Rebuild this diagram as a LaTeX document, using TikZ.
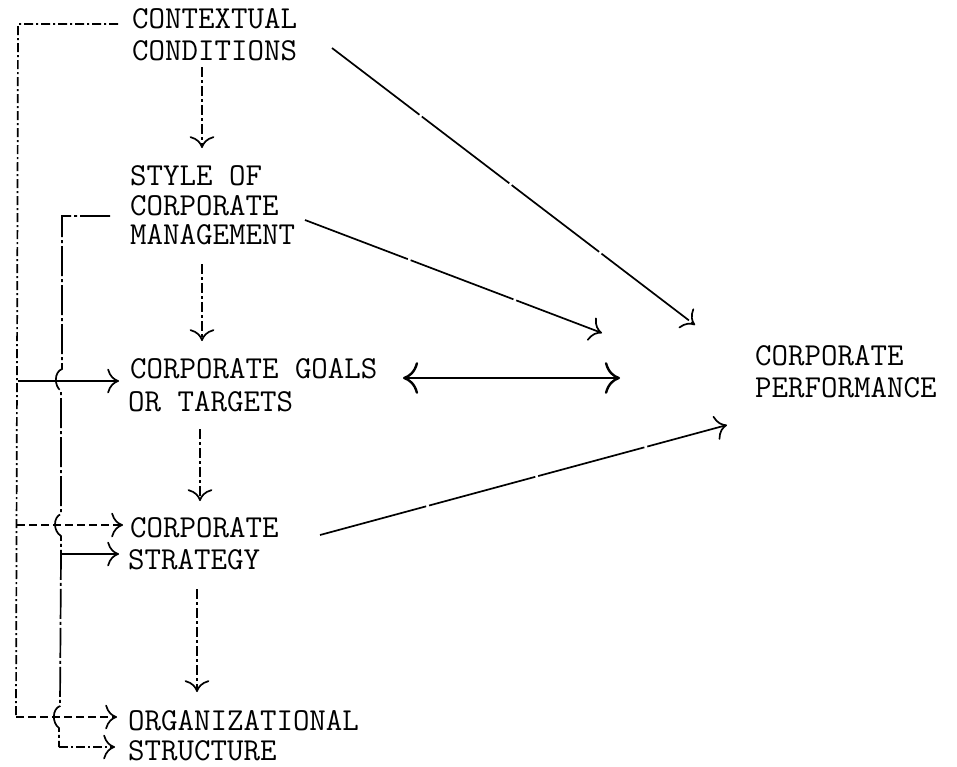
\documentclass[tikz,border=0pt]{standalone}
\usetikzlibrary{arrows.meta}
\begin{document}
\begin{tikzpicture}[x=1pt,y=-1pt,
  lbl/.style={anchor=base west,inner sep=0pt,font=\fontsize{32}{32}\selectfont\ttfamily},
  ln/.style={line width=1.7pt,black},
  tip/.style={-{Computer Modern Rightarrow[scale=2.2]}},
  twotip/.style={{Computer Modern Rightarrow[scale=2.2]}-{Computer Modern Rightarrow[scale=2.2]}},
  bus/.style={ln,dash pattern=on 9pt off 3pt on 2pt off 3pt},
  ibus/.style={ln,dash pattern=on 30pt off 3pt on 3pt off 3pt},
  vdash/.style={ln,dash pattern=on 10pt off 3pt on 3pt off 3pt},
  dashedln/.style={ln,dash pattern=on 8pt off 4pt},
  longln/.style={ln,dash pattern=on 110pt off 3pt}]
\fill[white] (0,0) rectangle (957,766);
\useasboundingbox (0,0) rectangle (957,766);
% text
\node[lbl] (cc1) at (132,28) {CONTEXTUAL};
\node[lbl] (cc2) at (132,60) {CONDITIONS};
\node[lbl] (sm1) at (130,185) {STYLE OF};
\node[lbl] (sm2) at (130,215) {CORPORATE};
\node[lbl] (sm3) at (130,244) {MANAGEMENT};
\node[lbl] (gt1) at (130,378) {CORPORATE GOALS};
\node[lbl] (gt2) at (128,411) {OR TARGETS};
\node[lbl] (cs1) at (130,537) {CORPORATE};
\node[lbl] (cs2) at (128,569) {STRATEGY};
\node[lbl] (os1) at (128,730) {ORGANIZATIONAL};
\node[lbl] (os2) at (128,760) {STRUCTURE};
\node[lbl] (cp1) at (755,365) {CORPORATE};
\node[lbl] (cp2) at (755,397) {PERFORMANCE};
% coordinates
\coordinate (ccL) at (118,24);
\coordinate (ob1) at (18,24);
\coordinate (ob2) at (18,381);
\coordinate (ob3) at (17,525);
\coordinate (ob4) at (16,717);
\coordinate (gtA) at (119,381);
\coordinate (csA) at (123,525);
\coordinate (osA) at (117,717);
\coordinate (smL) at (110,216);
\coordinate (ib1) at (62,216);
\coordinate (ibS) at (61,554);
\coordinate (stA) at (119,554);
\coordinate (ib2) at (59,747);
\coordinate (suA) at (115,747);
\coordinate (v1a) at (202,67);  \coordinate (v1b) at (202,148);
\coordinate (v2a) at (202,264); \coordinate (v2b) at (202,341);
\coordinate (v3a) at (200,429); \coordinate (v3b) at (200,501);
\coordinate (v4a) at (197,589); \coordinate (v4b) at (197,692);
\coordinate (ccR) at (332,48);  \coordinate (pfA) at (695,325);
\coordinate (smR) at (305,220); \coordinate (pfB) at (602,333);
\coordinate (csR) at (320,535); \coordinate (pfC) at (727,425);
\coordinate (gtR) at (403,378); \coordinate (pfD) at (620,378);
% outer bus
\draw[bus] (ccL) -- (ob1) -- (ob4);
\draw[ln,tip] (ob2) -- (gtA);
\draw[dashedln,tip] (ob3) -- (csA);
\draw[dashedln,tip] (ob4) -- (osA);
% inner bus with hops
\draw[ibus] (smL) -- (ib1) -- (62,369)
  .. controls (54,372) and (54,386) .. (61,391)
  -- (61,514) .. controls (53,517) and (53,531) .. (61,536)
  -- (ibS) -- (60,706) .. controls (52,709) and (52,723) .. (59,728)
  -- (ib2);
\draw[ln,tip] (ibS) -- (stA);
\draw[bus,tip] (ib2) -- (suA);
% vertical arrows
\draw[vdash,tip] (v1a) -- (v1b);
\draw[vdash,tip] (v2a) -- (v2b);
\draw[vdash,tip] (v3a) -- (v3b);
\draw[vdash,tip] (v4a) -- (v4b);
% to performance
\draw[longln,tip] (ccR) -- (pfA);
\draw[longln,tip] (smR) -- (pfB);
\draw[longln,tip] (csR) -- (pfC);
\draw[ln,line width=2.4pt,twotip] (gtR) -- (pfD);
\end{tikzpicture}
\end{document}
